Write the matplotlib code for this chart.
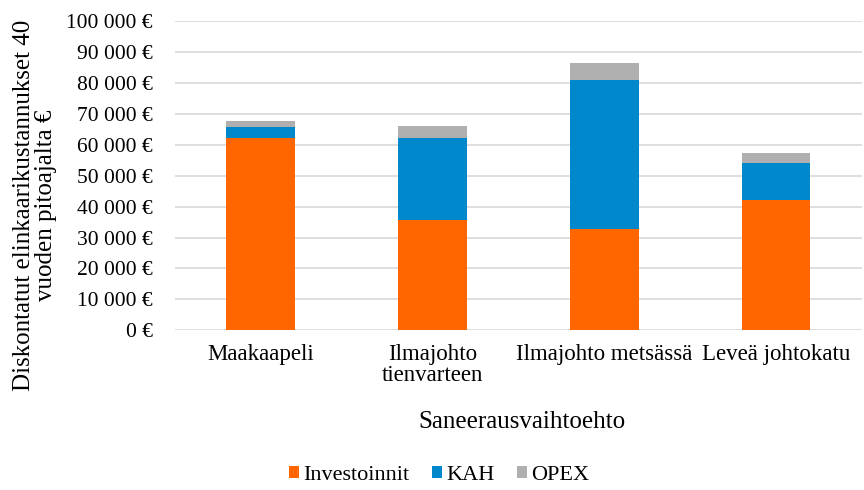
import matplotlib
matplotlib.use("Agg")
import matplotlib.pyplot as plt
import numpy as np

plt.rcParams['font.family'] = ['Liberation Serif', 'DejaVu Serif']

categories = ["Maakaapeli", "Ilmajohto\ntienvarteen", "Ilmajohto metsässä", "Leveä johtokatu"]
investoinnit = [62300, 35800, 32900, 42100]
kah = [3500, 26400, 48200, 11900]
opex = [1800, 3900, 5400, 3400]
series_names = ["Investoinnit", "KAH", "OPEX"]
y_ticks = list(range(0, 100001, 10000))

def euro(v):
    return "{:,} €".format(v).replace(",", " ")

fig = plt.figure(figsize=(8.64, 4.90), dpi=100)
ax = fig.add_axes([0.2025, 0.326, 0.795, 0.631])

x = np.arange(len(categories))
w = 0.4
colors = ["#FF6600", "#0088CC", "#AFAFAF"]
bottom = np.zeros(len(categories))
for vals, name, c in zip([investoinnit, kah, opex], series_names, colors):
    ax.bar(x, vals, w, bottom=bottom, color=c, label=name, zorder=3)
    bottom += np.array(vals)

ax.set_ylim(0, 100000)
ax.set_xlim(-0.5, len(categories) - 0.5)
ax.set_yticks(y_ticks)
ax.set_yticklabels([euro(v) for v in y_ticks], fontsize=15.5)
ax.set_xticks(x)
ax.set_xticklabels(categories, fontsize=16.5, linespacing=1.0)
ax.tick_params(axis='x', length=0, pad=10)
ax.tick_params(axis='y', length=0, pad=16)
ax.grid(axis='y', color='#D9D9D9', linewidth=1.2, zorder=0)
for s in ax.spines.values():
    s.set_visible(False)

ax.set_ylabel("Diskontatut elinkaarikustannukset 40\nvuoden pitoajalta €", fontsize=18, linespacing=1.0)
ax.yaxis.set_label_coords(-0.172, 0.405)
ax.set_xlabel("Saneerausvaihtoehto", fontsize=18)
ax.xaxis.set_label_coords(0.505, -0.262)

ax.legend(loc='center', bbox_to_anchor=(0.385, -0.47), ncol=3, frameon=False,
          fontsize=16, handlelength=0.45, handleheight=0.45, handletextpad=0.2,
          columnspacing=1.0, borderpad=0.1)

fig.savefig("out.png", dpi=100)
